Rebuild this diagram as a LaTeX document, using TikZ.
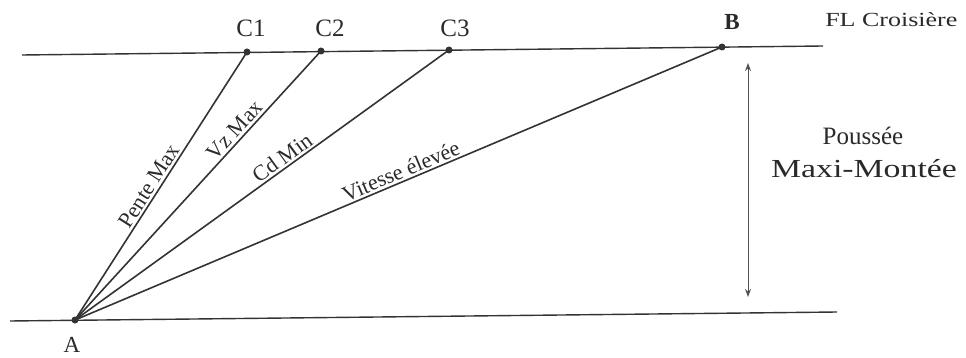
\documentclass[tikz,border=0pt]{standalone}
\usepackage{fontspec}
\setmainfont{Liberation Serif}
\usetikzlibrary{arrows.meta}
\definecolor{ink}{HTML}{333333}
\definecolor{txt}{HTML}{2A2A2A}
\tikzset{
  level/.style={draw=ink, line width=1.4pt},
  traj/.style={draw=ink, line width=1.6pt},
  dotpt/.style={circle, fill=ink, inner sep=0pt, minimum size=7pt},
  ptlabel/.style={text=txt, font=\fontsize{25}{27}\selectfont, inner sep=0pt},
  trajlabel/.style={text=txt, font=\fontsize{22}{24}\selectfont, sloped, anchor=south, inner sep=2pt},
  sidelabel/.style={text=txt, font=\fontsize{26}{28}\selectfont, inner sep=0pt},
  dimarrow/.style={draw=ink!85, line width=1pt, {Stealth[length=8pt,width=6pt]}-{Stealth[length=8pt,width=6pt]}}
}
\begin{document}
\begin{tikzpicture}[x=1pt, y=-1pt]
\useasboundingbox (0,0) rectangle (966,358);
% levels
\coordinate (TL) at (22,55);
\coordinate (TR) at (823,46);
\coordinate (BL) at (10,321);
\coordinate (BR) at (837,312);
\draw[level] (TL) -- (TR);
\draw[level] (BL) -- (BR);
% points
\node[dotpt] (A) at (75,320) {};
\node[dotpt] (C1) at (247,52) {};
\node[dotpt] (C2) at (321,51) {};
\node[dotpt] (C3) at (449,50) {};
\node[dotpt] (B) at (722,47) {};
% trajectories
\draw[traj] (A.center) -- node[trajlabel, pos=0.48] {Pente Max} (C1.center);
\draw[traj] (A.center) -- node[trajlabel, pos=0.68] {Vz Max} (C2.center);
\draw[traj] (A.center) -- node[trajlabel, pos=0.57] {Cd Min} (C3.center);
\draw[traj] (A.center) -- node[trajlabel, pos=0.51] {Vitesse élevée} (B.center);
% point labels
\node[ptlabel] (lC1) at (251,28) {C1};
\node[ptlabel] (lC2) at (330,28) {C2};
\node[ptlabel] (lC3) at (455,28) {C3};
\node[ptlabel, font=\bfseries\fontsize{23}{25}\selectfont] (lB) at (732,22) {B};
\node[ptlabel, font=\fontsize{23}{25}\selectfont] (lA) at (72,345) {A};
\node[ptlabel, font=\fontsize{20}{22}\selectfont, xscale=1.3, anchor=west] (lFL) at (825,20) {FL Croisière};
% thrust dimension
\coordinate (D1) at (748,63);
\coordinate (D2) at (748,297);
\draw[dimarrow] (D1) -- (D2);
\node[sidelabel, font=\fontsize{25}{27}\selectfont] (lP) at (863,136) {Poussée};
\node[sidelabel, xscale=1.3] (lM) at (864,169) {Maxi-Montée};
\end{tikzpicture}
\end{document}
